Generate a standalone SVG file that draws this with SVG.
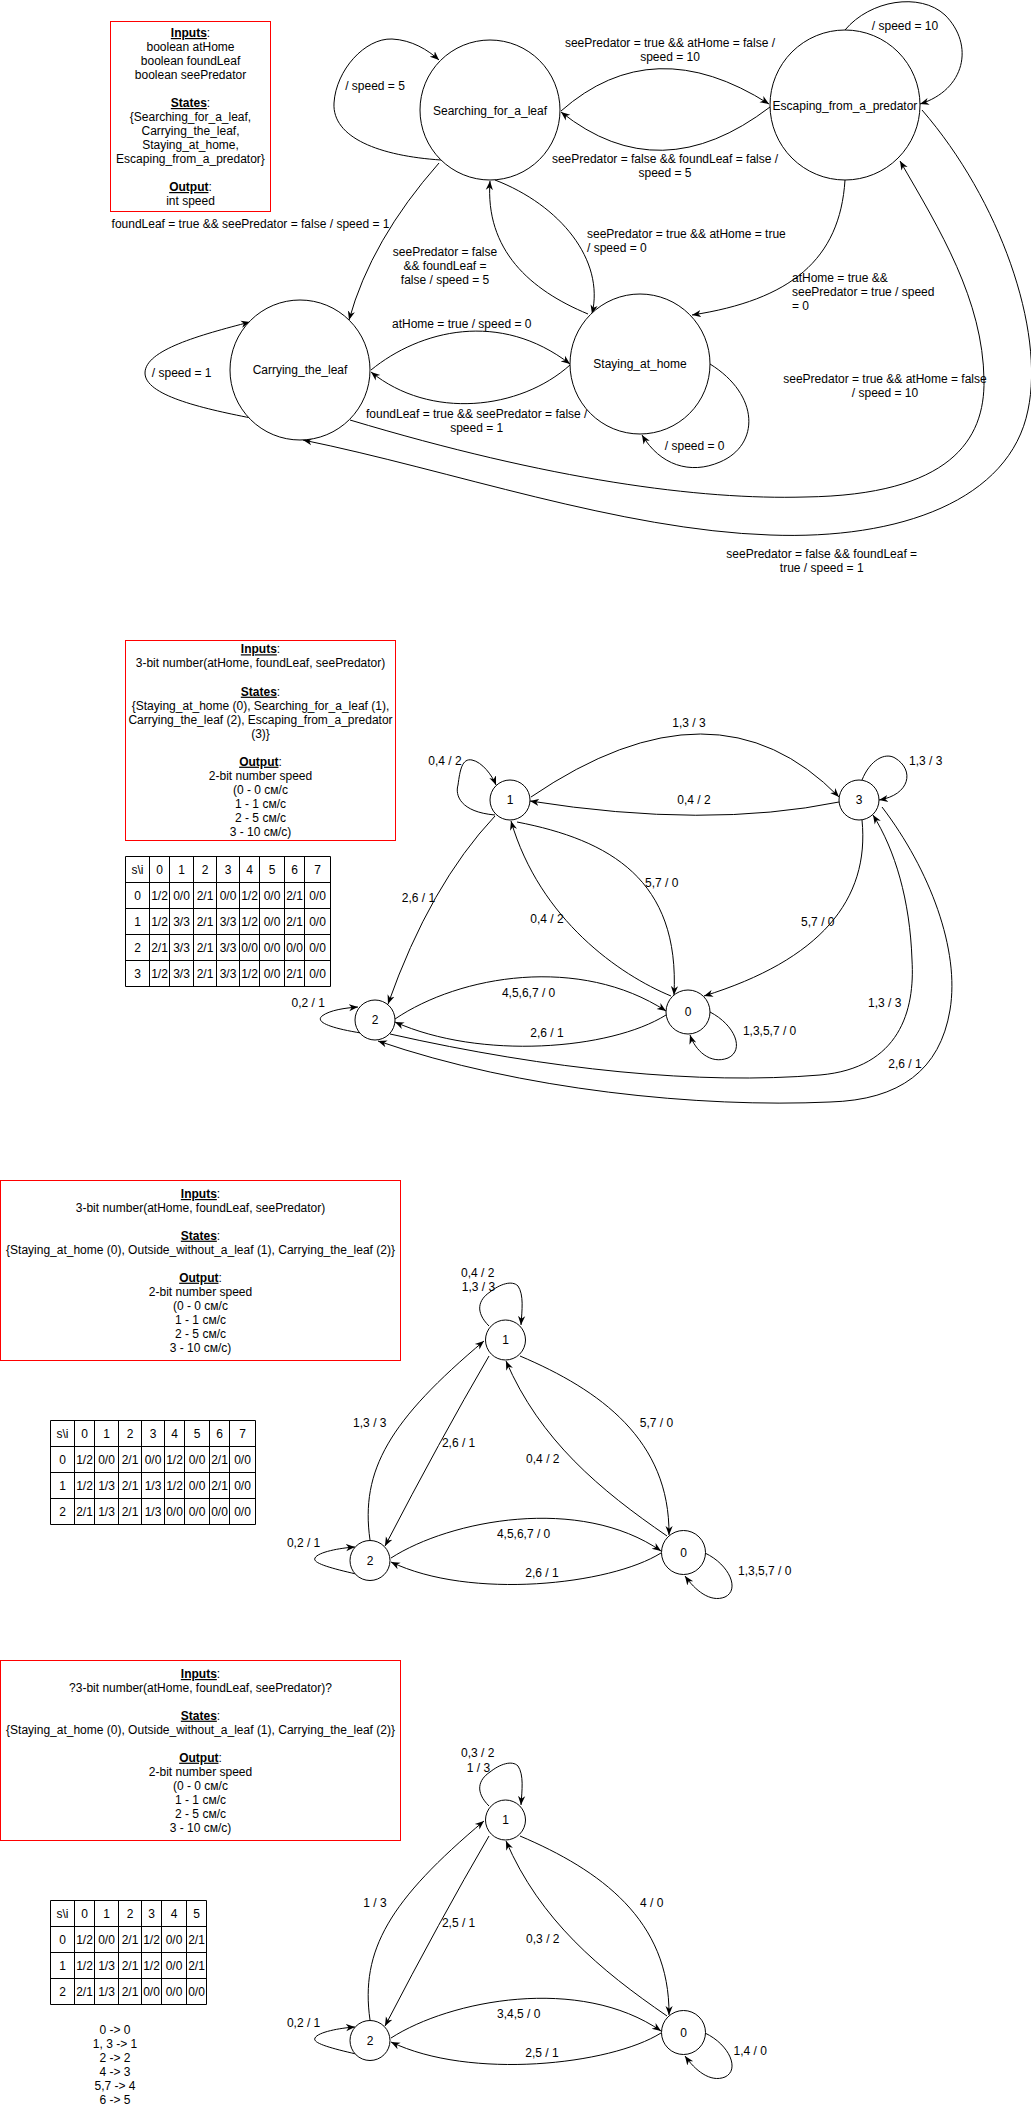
<svg xmlns="http://www.w3.org/2000/svg" width="1031" height="2112" viewBox="0 0 1031 2112">
<style>
text{font-family:"Liberation Sans",Arial,sans-serif;font-size:12px;fill:#000}
.c{text-anchor:middle}
.s{text-anchor:start}
.h{font-weight:bold;text-decoration:underline}
.node{fill:#fff;stroke:#000;stroke-width:1}
.box{fill:#fff;stroke:#ff0000;stroke-width:1}
.edge{fill:none;stroke:#000;stroke-width:1;marker-end:url(#arr)}
.tbl{fill:none;stroke:#000;stroke-width:1}
</style>
<defs>
<marker id="arr" viewBox="0 0 10 10" refX="10" refY="5" markerWidth="9" markerHeight="9" markerUnits="userSpaceOnUse" orient="auto">
<path d="M0,1 L10,5 L0,9 L3,5 z" fill="#000"/>
</marker>
</defs>
<rect width="1031" height="2112" fill="#fff"/>

<!-- ============ Diagram 1 ============ -->
<g id="d1-info">
<rect class="box" x="110.5" y="21.5" width="160" height="190"/>
<text class="c" x="190.5" y="37"><tspan class="h">Inputs</tspan>:</text>
<text class="c" x="190.5" y="51">boolean atHome</text>
<text class="c" x="190.5" y="65">boolean foundLeaf</text>
<text class="c" x="190.5" y="79">boolean seePredator</text>
<text class="c" x="190.5" y="107"><tspan class="h">States</tspan>:</text>
<text class="c" x="190.5" y="121">{Searching_for_a_leaf,</text>
<text class="c" x="190.5" y="135">Carrying_the_leaf,</text>
<text class="c" x="190.5" y="149">Staying_at_home,</text>
<text class="c" x="190.5" y="163">Escaping_from_a_predator}</text>
<text class="c" x="190.5" y="191"><tspan class="h">Output</tspan>:</text>
<text class="c" x="190.5" y="205">int speed</text>
</g>

<g id="d1-edges">
<path class="edge" d="M441,160 C380,156 332,138 334,103 C336,70 365,38 392,39 C412,40 428,50 439,60"/>
<path class="edge" d="M439,163 Q371,240 349,320"/>
<path class="edge" d="M561,111 Q653,30 769,104"/>
<path class="edge" d="M770,107 Q660,191 561,112"/>
<path class="edge" d="M845,30 C870,0 920,-8 945,15 C975,45 965,90 920,104"/>
<path class="edge" d="M495,180 C560,205 605,260 592,314"/>
<path class="edge" d="M588,314 C530,290 485,250 490,181"/>
<path class="edge" d="M371,370 C420,330 500,310 570,364"/>
<path class="edge" d="M570,365 C520,410 430,420 371,372"/>
<path class="edge" d="M710,364 C760,395 760,445 720,462 C690,475 660,465 642,435"/>
<path class="edge" d="M845,180 C840,260 790,300 692,315"/>
<path class="edge" d="M350,420 C550,480 700,500 805,497 C950,495 985,440 984,380 C983,300 940,230 900,161"/>
<path class="edge" d="M922,110 C1000,200 1045,330 1028,410 C1010,500 900,540 770,535 C620,530 450,470 303,440"/>
<path class="edge" d="M251,418 C200,408 145,395 145,373 C145,350 200,335 250,322"/>
<text class="c" x="375" y="90">/ speed = 5</text>
<text class="c" x="250.5" y="228">foundLeaf = true &amp;&amp; seePredator = false / speed = 1</text>
<text class="c" x="670" y="47">seePredator = true &amp;&amp; atHome = false /</text>
<text class="c" x="670" y="61">speed = 10</text>
<text class="c" x="665" y="162.5">seePredator = false &amp;&amp; foundLeaf = false /</text>
<text class="c" x="665" y="176.5">speed = 5</text>
<text class="c" x="905" y="29.6">/ speed = 10</text>
<text class="s" x="587" y="237.5">seePredator = true &amp;&amp; atHome = true</text>
<text class="s" x="587" y="252">/ speed = 0</text>
<text class="s" x="792" y="281.5">atHome = true &amp;&amp;</text>
<text class="s" x="792" y="295.5">seePredator = true / speed</text>
<text class="s" x="792" y="309.5">= 0</text>
<text class="c" x="445" y="255.7">seePredator = false</text>
<text class="c" x="445" y="270">&amp;&amp; foundLeaf =</text>
<text class="c" x="445" y="284">false / speed = 5</text>
<text class="c" x="461.7" y="327.7">atHome = true / speed = 0</text>
<text class="c" x="476.7" y="418">foundLeaf = true &amp;&amp; seePredator = false /</text>
<text class="c" x="476.7" y="431.5">speed = 1</text>
<text class="c" x="694.7" y="449.8">/ speed = 0</text>
<text class="c" x="885" y="383">seePredator = true &amp;&amp; atHome = false</text>
<text class="c" x="885" y="396.6">/ speed = 10</text>
<text class="c" x="821.7" y="557.8">seePredator = false &amp;&amp; foundLeaf =</text>
<text class="c" x="821.7" y="571.5">true / speed = 1</text>
<text class="c" x="181.7" y="377.3">/ speed = 1</text>
</g>

<g id="d1-searching"><circle class="node" cx="490" cy="110" r="70"/><text class="c" x="490" y="115">Searching_for_a_leaf</text></g>
<g id="d1-escaping"><circle class="node" cx="845" cy="105" r="75"/><text class="c" x="845" y="110">Escaping_from_a_predator</text></g>
<g id="d1-carrying"><circle class="node" cx="300" cy="370" r="70"/><text class="c" x="300" y="374">Carrying_the_leaf</text></g>
<g id="d1-staying"><circle class="node" cx="640" cy="364" r="70"/><text class="c" x="640" y="368">Staying_at_home</text></g>

<!-- ============ Diagram 2 ============ -->
<g id="d2-info">
<rect class="box" x="125.5" y="640.5" width="270" height="200"/>
<text class="c" x="260.5" y="653.3"><tspan class="h">Inputs</tspan>:</text>
<text class="c" x="260.5" y="667.3">3-bit number(atHome, foundLeaf, seePredator)</text>
<text class="c" x="260.5" y="695.7"><tspan class="h">States</tspan>:</text>
<text class="c" x="260.5" y="709.7">{Staying_at_home (0), Searching_for_a_leaf (1),</text>
<text class="c" x="260.5" y="723.7">Carrying_the_leaf (2), Escaping_from_a_predator</text>
<text class="c" x="260.5" y="737.7">(3)}</text>
<text class="c" x="260.5" y="765.7"><tspan class="h">Output</tspan>:</text>
<text class="c" x="260.5" y="779.7">2-bit number speed</text>
<text class="c" x="260.5" y="793.7">(0 - 0 см/с</text>
<text class="c" x="260.5" y="807.7">1 - 1 см/с</text>
<text class="c" x="260.5" y="821.7">2 - 5 см/с</text>
<text class="c" x="260.5" y="835.7">3 - 10 см/с)</text>
</g>

<g id="d2-table">
<path class="tbl" d="M125.5,856.5 H330.5 V986.5 H125.5 Z M125.5,882.5 H330.5 M125.5,908.5 H330.5 M125.5,934.5 H330.5 M125.5,960.5 H330.5 M149.5,856.5 V986.5 M169.5,856.5 V986.5 M193.5,856.5 V986.5 M216.5,856.5 V986.5 M239.5,856.5 V986.5 M259.5,856.5 V986.5 M284.5,856.5 V986.5 M304.5,856.5 V986.5"/>
<g class="c">
<text class="c" x="137.5" y="873.5">s\i</text><text class="c" x="159.5" y="873.5">0</text><text class="c" x="181.5" y="873.5">1</text><text class="c" x="205" y="873.5">2</text><text class="c" x="228" y="873.5">3</text><text class="c" x="249.5" y="873.5">4</text><text class="c" x="272" y="873.5">5</text><text class="c" x="294.5" y="873.5">6</text><text class="c" x="317.5" y="873.5">7</text>
<text class="c" x="137.5" y="899.5">0</text><text class="c" x="159.5" y="899.5">1/2</text><text class="c" x="181.5" y="899.5">0/0</text><text class="c" x="205" y="899.5">2/1</text><text class="c" x="228" y="899.5">0/0</text><text class="c" x="249.5" y="899.5">1/2</text><text class="c" x="272" y="899.5">0/0</text><text class="c" x="294.5" y="899.5">2/1</text><text class="c" x="317.5" y="899.5">0/0</text>
<text class="c" x="137.5" y="925.5">1</text><text class="c" x="159.5" y="925.5">1/2</text><text class="c" x="181.5" y="925.5">3/3</text><text class="c" x="205" y="925.5">2/1</text><text class="c" x="228" y="925.5">3/3</text><text class="c" x="249.5" y="925.5">1/2</text><text class="c" x="272" y="925.5">0/0</text><text class="c" x="294.5" y="925.5">2/1</text><text class="c" x="317.5" y="925.5">0/0</text>
<text class="c" x="137.5" y="951.5">2</text><text class="c" x="159.5" y="951.5">2/1</text><text class="c" x="181.5" y="951.5">3/3</text><text class="c" x="205" y="951.5">2/1</text><text class="c" x="228" y="951.5">3/3</text><text class="c" x="249.5" y="951.5">0/0</text><text class="c" x="272" y="951.5">0/0</text><text class="c" x="294.5" y="951.5">0/0</text><text class="c" x="317.5" y="951.5">0/0</text>
<text class="c" x="137.5" y="977.5">3</text><text class="c" x="159.5" y="977.5">1/2</text><text class="c" x="181.5" y="977.5">3/3</text><text class="c" x="205" y="977.5">2/1</text><text class="c" x="228" y="977.5">3/3</text><text class="c" x="249.5" y="977.5">1/2</text><text class="c" x="272" y="977.5">0/0</text><text class="c" x="294.5" y="977.5">2/1</text><text class="c" x="317.5" y="977.5">0/0</text>
</g>
</g>

<g id="d2-edges">
<path class="edge" d="M495,815 C460,812 455,795 458,785 C460,770 462,758 472,760 C482,762 492,775 496,785"/>
<path class="edge" d="M531,797 Q716,671 839,797"/>
<path class="edge" d="M839,802 Q707,829 530,801"/>
<path class="edge" d="M862,780 C870,760 885,752 895,758 C915,770 910,795 879,800"/>
<path class="edge" d="M495,816 Q430,885 388,1004"/>
<path class="edge" d="M517,822 C610,840 680,880 674,995"/>
<path class="edge" d="M671,996 C620,975 540,920 511,821"/>
<path class="edge" d="M862,820 C870,900 820,960 704,996"/>
<path class="edge" d="M395,1019 C460,975 580,955 666,1011"/>
<path class="edge" d="M666,1015 C610,1050 480,1060 395,1022"/>
<path class="edge" d="M361,1033 C330,1028 315,1022 322,1016 C330,1010 345,1008 358,1007"/>
<path class="edge" d="M710,1012 C735,1025 745,1050 728,1058 C710,1065 695,1050 690,1035"/>
<path class="edge" d="M390,1034 C550,1070 700,1085 820,1075 C900,1068 915,1010 912,960 C910,900 895,850 873,815"/>
<path class="edge" d="M882,807 C930,870 960,950 950,1010 C940,1070 900,1100 830,1102 C700,1108 520,1090 378,1041"/>
<text class="c" x="445" y="764.7">0,4 / 2</text>
<text class="c" x="689" y="727.3">1,3 / 3</text>
<text class="c" x="694" y="804">0,4 / 2</text>
<text class="c" x="925.7" y="764.7">1,3 / 3</text>
<text class="c" x="418.4" y="902">2,6 / 1</text>
<text class="c" x="661.7" y="887.3">5,7 / 0</text>
<text class="c" x="547" y="923.3">0,4 / 2</text>
<text class="c" x="817.8" y="925.7">5,7 / 0</text>
<text class="c" x="528.6" y="997.3">4,5,6,7 / 0</text>
<text class="c" x="547" y="1037.3">2,6 / 1</text>
<text class="c" x="308.2" y="1007.3">0,2 / 1</text>
<text class="c" x="769.6" y="1034.7">1,3,5,7 / 0</text>
<text class="c" x="884.7" y="1007.3">1,3 / 3</text>
<text class="c" x="905" y="1068">2,6 / 1</text>
</g>

<g id="d2-n1"><circle class="node" cx="510" cy="800" r="20"/><text class="c" x="510" y="804">1</text></g>
<g id="d2-n3"><circle class="node" cx="859" cy="800" r="20"/><text class="c" x="859" y="804">3</text></g>
<g id="d2-n2"><circle class="node" cx="375" cy="1020" r="20"/><text class="c" x="375" y="1024">2</text></g>
<g id="d2-n0"><circle class="node" cx="688" cy="1012" r="22"/><text class="c" x="688" y="1016">0</text></g>

<!-- ============ Diagram 3 ============ -->
<g id="d3-info">
<rect class="box" x="0.5" y="1180.5" width="400" height="180"/>
<text class="c" x="200.5" y="1198"><tspan class="h">Inputs</tspan>:</text>
<text class="c" x="200.5" y="1211.7">3-bit number(atHome, foundLeaf, seePredator)</text>
<text class="c" x="200.5" y="1239.7"><tspan class="h">States</tspan>:</text>
<text class="c" x="200.5" y="1253.7">{Staying_at_home (0), Outside_without_a_leaf (1), Carrying_the_leaf (2)}</text>
<text class="c" x="200.5" y="1281.7"><tspan class="h">Output</tspan>:</text>
<text class="c" x="200.5" y="1295.7">2-bit number speed</text>
<text class="c" x="200.5" y="1309.7">(0 - 0 см/с</text>
<text class="c" x="200.5" y="1323.7">1 - 1 см/с</text>
<text class="c" x="200.5" y="1337.7">2 - 5 см/с</text>
<text class="c" x="200.5" y="1351.7">3 - 10 см/с)</text>
</g>

<g id="d3-table">
<path class="tbl" d="M50.5,1420.5 H255.5 V1524.5 H50.5 Z M50.5,1446.5 H255.5 M50.5,1472.5 H255.5 M50.5,1498.5 H255.5 M74.5,1420.5 V1524.5 M94.5,1420.5 V1524.5 M118.5,1420.5 V1524.5 M141.5,1420.5 V1524.5 M164.5,1420.5 V1524.5 M184.5,1420.5 V1524.5 M209.5,1420.5 V1524.5 M229.5,1420.5 V1524.5"/>
<text class="c" x="62.5" y="1437.5">s\i</text><text class="c" x="84.5" y="1437.5">0</text><text class="c" x="106.5" y="1437.5">1</text><text class="c" x="130" y="1437.5">2</text><text class="c" x="153" y="1437.5">3</text><text class="c" x="174.5" y="1437.5">4</text><text class="c" x="197" y="1437.5">5</text><text class="c" x="219.5" y="1437.5">6</text><text class="c" x="242.5" y="1437.5">7</text>
<text class="c" x="62.5" y="1463.5">0</text><text class="c" x="84.5" y="1463.5">1/2</text><text class="c" x="106.5" y="1463.5">0/0</text><text class="c" x="130" y="1463.5">2/1</text><text class="c" x="153" y="1463.5">0/0</text><text class="c" x="174.5" y="1463.5">1/2</text><text class="c" x="197" y="1463.5">0/0</text><text class="c" x="219.5" y="1463.5">2/1</text><text class="c" x="242.5" y="1463.5">0/0</text>
<text class="c" x="62.5" y="1489.5">1</text><text class="c" x="84.5" y="1489.5">1/2</text><text class="c" x="106.5" y="1489.5">1/3</text><text class="c" x="130" y="1489.5">2/1</text><text class="c" x="153" y="1489.5">1/3</text><text class="c" x="174.5" y="1489.5">1/2</text><text class="c" x="197" y="1489.5">0/0</text><text class="c" x="219.5" y="1489.5">2/1</text><text class="c" x="242.5" y="1489.5">0/0</text>
<text class="c" x="62.5" y="1515.5">2</text><text class="c" x="84.5" y="1515.5">2/1</text><text class="c" x="106.5" y="1515.5">1/3</text><text class="c" x="130" y="1515.5">2/1</text><text class="c" x="153" y="1515.5">1/3</text><text class="c" x="174.5" y="1515.5">0/0</text><text class="c" x="197" y="1515.5">0/0</text><text class="c" x="219.5" y="1515.5">0/0</text><text class="c" x="242.5" y="1515.5">0/0</text>
</g>

<g id="d3-edges">
<path class="edge" d="M489,1326 C475,1312 478,1300 490,1292 C500,1284 512,1280 518,1286 C524,1295 522,1310 521,1325"/>
<path class="edge" d="M370,1540 C360,1470 390,1420 484,1341"/>
<path class="edge" d="M489,1356 Q440,1440 385,1546"/>
<path class="edge" d="M520,1356 C600,1390 670,1440 669,1535"/>
<path class="edge" d="M667,1536 C600,1490 540,1440 506,1361"/>
<path class="edge" d="M391,1558 C450,1520 580,1495 661,1551"/>
<path class="edge" d="M661,1553 C610,1585 470,1600 391,1562"/>
<path class="edge" d="M356,1574 C330,1568 312,1563 315,1558 C318,1552 340,1548 355,1547"/>
<path class="edge" d="M705,1553 C730,1565 740,1590 725,1597 C710,1603 695,1590 685,1576"/>
<text class="c" x="477.7" y="1277.3">0,4 / 2</text>
<text class="c" x="478.5" y="1291.3">1,3 / 3</text>
<text class="c" x="369.8" y="1427.3">1,3 / 3</text>
<text class="c" x="458.6" y="1447.3">2,6 / 1</text>
<text class="c" x="656.4" y="1427.3">5,7 / 0</text>
<text class="c" x="542.8" y="1463.3">0,4 / 2</text>
<text class="c" x="523.6" y="1538">4,5,6,7 / 0</text>
<text class="c" x="542" y="1577.3">2,6 / 1</text>
<text class="c" x="303.6" y="1547.3">0,2 / 1</text>
<text class="c" x="764.7" y="1574.7">1,3,5,7 / 0</text>
</g>

<g id="d3-n1"><circle class="node" cx="505.5" cy="1340" r="20"/><text class="c" x="505.5" y="1344">1</text></g>
<g id="d3-n2"><circle class="node" cx="370" cy="1560.5" r="20"/><text class="c" x="370" y="1564.5">2</text></g>
<g id="d3-n0"><circle class="node" cx="683.5" cy="1552.5" r="22"/><text class="c" x="683.5" y="1556.5">0</text></g>

<!-- ============ Diagram 4 ============ -->
<g id="d4-info">
<rect class="box" x="0.5" y="1660.5" width="400" height="180"/>
<text class="c" x="200.5" y="1678"><tspan class="h">Inputs</tspan>:</text>
<text class="c" x="200.5" y="1691.7">?3-bit number(atHome, foundLeaf, seePredator)?</text>
<text class="c" x="200.5" y="1719.7"><tspan class="h">States</tspan>:</text>
<text class="c" x="200.5" y="1733.7">{Staying_at_home (0), Outside_without_a_leaf (1), Carrying_the_leaf (2)}</text>
<text class="c" x="200.5" y="1761.7"><tspan class="h">Output</tspan>:</text>
<text class="c" x="200.5" y="1775.7">2-bit number speed</text>
<text class="c" x="200.5" y="1789.7">(0 - 0 см/с</text>
<text class="c" x="200.5" y="1803.7">1 - 1 см/с</text>
<text class="c" x="200.5" y="1817.7">2 - 5 см/с</text>
<text class="c" x="200.5" y="1831.7">3 - 10 см/с)</text>
</g>

<g id="d4-table">
<path class="tbl" d="M50.5,1900.5 H206.5 V2004.5 H50.5 Z M50.5,1926.5 H206.5 M50.5,1952.5 H206.5 M50.5,1978.5 H206.5 M74.5,1900.5 V2004.5 M94.5,1900.5 V2004.5 M118.5,1900.5 V2004.5 M141.5,1900.5 V2004.5 M161.5,1900.5 V2004.5 M186.5,1900.5 V2004.5"/>
<text class="c" x="62.5" y="1917.5">s\i</text><text class="c" x="84.5" y="1917.5">0</text><text class="c" x="106.5" y="1917.5">1</text><text class="c" x="130" y="1917.5">2</text><text class="c" x="151.5" y="1917.5">3</text><text class="c" x="174" y="1917.5">4</text><text class="c" x="196.5" y="1917.5">5</text>
<text class="c" x="62.5" y="1943.5">0</text><text class="c" x="84.5" y="1943.5">1/2</text><text class="c" x="106.5" y="1943.5">0/0</text><text class="c" x="130" y="1943.5">2/1</text><text class="c" x="151.5" y="1943.5">1/2</text><text class="c" x="174" y="1943.5">0/0</text><text class="c" x="196.5" y="1943.5">2/1</text>
<text class="c" x="62.5" y="1969.5">1</text><text class="c" x="84.5" y="1969.5">1/2</text><text class="c" x="106.5" y="1969.5">1/3</text><text class="c" x="130" y="1969.5">2/1</text><text class="c" x="151.5" y="1969.5">1/2</text><text class="c" x="174" y="1969.5">0/0</text><text class="c" x="196.5" y="1969.5">2/1</text>
<text class="c" x="62.5" y="1995.5">2</text><text class="c" x="84.5" y="1995.5">2/1</text><text class="c" x="106.5" y="1995.5">1/3</text><text class="c" x="130" y="1995.5">2/1</text><text class="c" x="151.5" y="1995.5">0/0</text><text class="c" x="174" y="1995.5">0/0</text><text class="c" x="196.5" y="1995.5">0/0</text>
</g>

<g id="d4-mapping">
<text class="c" x="115" y="2034">0 -&gt; 0</text>
<text class="c" x="115" y="2048.3">1, 3 -&gt; 1</text>
<text class="c" x="115" y="2062.3">2 -&gt; 2</text>
<text class="c" x="115" y="2076.3">4 -&gt; 3</text>
<text class="c" x="115" y="2090.3">5,7 -&gt; 4</text>
<text class="c" x="115" y="2104.3">6 -&gt; 5</text>
</g>

<g id="d4-edges">
<path class="edge" d="M489,1806 C475,1792 478,1780 490,1772 C500,1764 512,1760 518,1766 C524,1775 522,1790 521,1805"/>
<path class="edge" d="M370,2020 C360,1950 390,1900 484,1821"/>
<path class="edge" d="M489,1836 Q440,1920 385,2026"/>
<path class="edge" d="M520,1836 C600,1870 670,1920 669,2015"/>
<path class="edge" d="M667,2016 C600,1970 540,1920 506,1841"/>
<path class="edge" d="M391,2038 C450,2000 580,1975 661,2031"/>
<path class="edge" d="M661,2033 C610,2065 470,2080 391,2042"/>
<path class="edge" d="M356,2054 C330,2048 312,2043 315,2038 C318,2032 340,2028 355,2027"/>
<path class="edge" d="M705,2033 C730,2045 740,2070 725,2077 C710,2083 695,2070 685,2056"/>
<text class="c" x="477.7" y="1757.3">0,3 / 2</text>
<text class="c" x="478.5" y="1771.7">1 / 3</text>
<text class="c" x="375" y="1907.3">1 / 3</text>
<text class="c" x="458.6" y="1927.3">2,5 / 1</text>
<text class="c" x="651.8" y="1907.3">4 / 0</text>
<text class="c" x="542.8" y="1943.3">0,3 / 2</text>
<text class="c" x="518.7" y="2018">3,4,5 / 0</text>
<text class="c" x="542" y="2057.3">2,5 / 1</text>
<text class="c" x="303.6" y="2027.3">0,2 / 1</text>
<text class="c" x="750.2" y="2054.7">1,4 / 0</text>
</g>

<g id="d4-n1"><circle class="node" cx="505.5" cy="1820" r="20"/><text class="c" x="505.5" y="1824">1</text></g>
<g id="d4-n2"><circle class="node" cx="370" cy="2040.5" r="20"/><text class="c" x="370" y="2044.5">2</text></g>
<g id="d4-n0"><circle class="node" cx="683.5" cy="2032.5" r="22"/><text class="c" x="683.5" y="2036.5">0</text></g>
</svg>
